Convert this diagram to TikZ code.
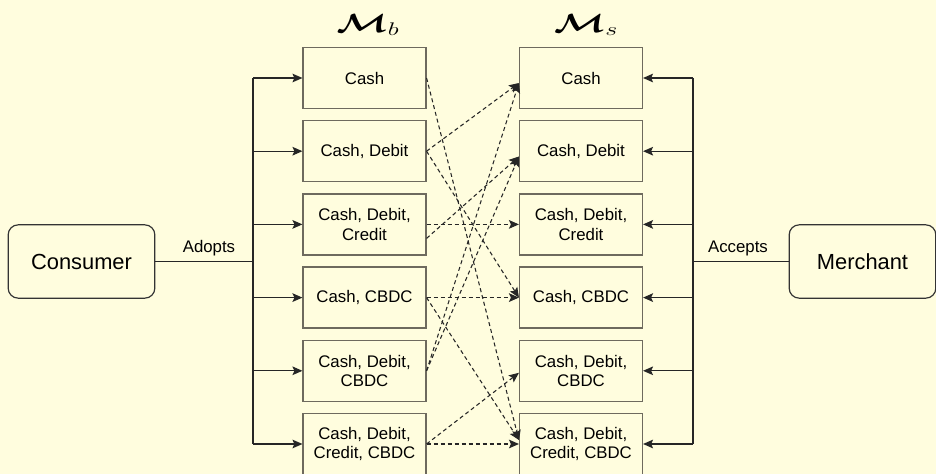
\documentclass[tikz,border=0pt]{standalone}
\usepackage{fontspec}
\setmainfont{Liberation Sans}
\usepackage{graphicx}
\usepackage{amsmath}
\usetikzlibrary{arrows.meta,calc,positioning}
\definecolor{paper}{HTML}{FFFDDE}
\definecolor{edge}{HTML}{6E6A5E}
\tikzset{
  setbox/.style={draw=edge, line width=1.1pt, minimum width=92pt, minimum height=45.75pt, inner sep=0pt, align=center, font=\fontsize{12.6}{14.5}\selectfont},
  agent/.style={draw=black!80, line width=0.9pt, rounded corners=7.5pt, minimum width=110pt, minimum height=55pt, font=\fontsize{16.4}{19}\selectfont},
  tag/.style={inner sep=0pt, font=\fontsize{12.6}{14.5}\selectfont},
  link/.style={line width=0.9pt, draw=black!85},
  feed/.style={link, -{Stealth[length=7.5pt,width=6.5pt,inset=1.5pt]}},
  match/.style={line width=0.8pt, draw=black!85, dash pattern=on 3pt off 2.25pt, -{Stealth[length=7.5pt,width=6.5pt,inset=1.5pt]}},
}

\begin{document}
\begin{tikzpicture}[x=0.75pt, y=-0.75pt]
	%%%%% START %%%%%
	\path[use as bounding box, fill=paper] (0,0) rectangle (936,474);
	
	% agents
	\node[agent] (con) at (81.5,261.5) {Consumer};
	\node[agent] (mer) at (862.5,261.5) {Merchant};
	
	% sets of the buyer
	\node[setbox] (b1) at (364.5,78) {Cash};
	\node[setbox] (b2) at (364.5,151.2) {Cash, Debit};
	\node[setbox] (b3) at (364.5,224.4) {Cash, Debit,\\Credit};
	\node[setbox] (b4) at (364.5,297.6) {Cash, CBDC};
	\node[setbox] (b5) at (364.5,370.8) {Cash, Debit,\\CBDC};
	\node[setbox] (b6) at (364.5,444) {Cash, Debit,\\Credit, CBDC};
	
	% sets of the seller
	\node[setbox] (s1) at (581,78) {Cash};
	\node[setbox] (s2) at (581,151.2) {Cash, Debit};
	\node[setbox] (s3) at (581,224.4) {Cash, Debit,\\Credit};
	\node[setbox] (s4) at (581,297.6) {Cash, CBDC};
	\node[setbox] (s5) at (581,370.8) {Cash, Debit,\\CBDC};
	\node[setbox] (s6) at (581,444) {Cash, Debit,\\Credit, CBDC};
	
	% titles
	\node (tb) at (368,25) {\huge\scalebox{1.35}[0.95]{$\boldsymbol{\mathcal{M}}_b$}};
	\node (ts) at (586,25) {\huge\scalebox{1.35}[0.95]{$\boldsymbol{\mathcal{M}}_s$}};
	
	% left bus
	\coordinate (lbus) at (253,262);
	\node[tag] (adopts) at (209,248) {Adopts};
	\draw[link] (con.east) -- (con.east -| lbus);
	\draw[link] (lbus |- b1.west) -- (lbus |- b6.west);
	\draw[feed] (lbus |- b1.west) -- (b1.west);
	\draw[feed] (lbus |- b2.west) -- (b2.west);
	\draw[feed] (lbus |- b3.west) -- (b3.west);
	\draw[feed] (lbus |- b4.west) -- (b4.west);
	\draw[feed] (lbus |- b5.west) -- (b5.west);
	\draw[feed] (lbus |- b6.west) -- (b6.west);
	
	% right bus
	\coordinate (rbus) at (693,262);
	\node[tag] (accepts) at (738,248) {Accepts};
	\draw[link] (mer.west) -- (mer.west -| rbus);
	\draw[link] (rbus |- s1.east) -- (rbus |- s6.east);
	\draw[feed] (rbus |- s1.east) -- (s1.east);
	\draw[feed] (rbus |- s2.east) -- (s2.east);
	\draw[feed] (rbus |- s3.east) -- (s3.east);
	\draw[feed] (rbus |- s4.east) -- (s4.east);
	\draw[feed] (rbus |- s5.east) -- (s5.east);
	\draw[feed] (rbus |- s6.east) -- (s6.east);
	
	% matches
	\draw[match] (b1.east) -- ([yshift=3pt]s6.west);
	\draw[match] (b2.east) -- ([yshift=-3.75pt]s1.west);
	\draw[match] (b2.east) -- (s4.west);
	\draw[match] (b3.east) -- (s3.west);
	\draw[match] ([yshift=-10.5pt]b3.east) -- ([yshift=-4pt]s2.west);
	\draw[match] (b4.east) -- (s4.west);
	\draw[match] (b4.east) -- ([yshift=3pt]s6.west);
	\draw[match] (b5.east) -- ([yshift=-3.75pt]s1.west);
	\draw[match] (b5.east) -- ([yshift=-4pt]s2.west);
	\draw[match] (b6.east) -- ([yshift=-1.5pt]s5.west);
	\draw[match] (b6.east) -- (s6.west);
	
	%%%%% END %%%%%
\end{tikzpicture}
\end{document}
